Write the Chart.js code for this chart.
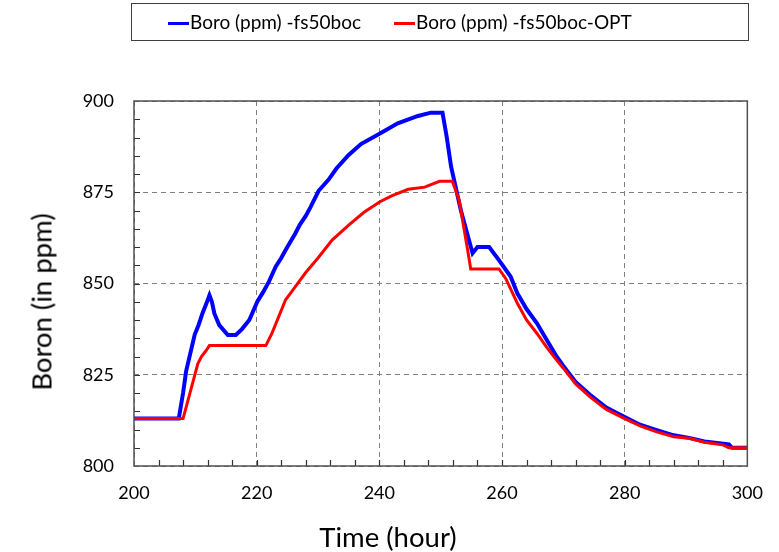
<!DOCTYPE html>
<html><head><meta charset="utf-8">
<script src="https://cdn.jsdelivr.net/npm/chart.js@4.4.1/dist/chart.umd.min.js"></script>
<style>
body{margin:0;background:#fff;}
#wrap{position:relative;width:779px;height:552px;overflow:hidden;}
#c{position:absolute;left:0;top:0;}
#legend{position:absolute;left:131px;top:3px;width:616px;height:36px;border:1px solid #404040;font-family:Lato,"Liberation Sans",sans-serif;font-size:19px;color:#000;}
.li{position:absolute;top:0;height:36px;line-height:36px;white-space:nowrap;}
.sw{display:inline-block;width:21px;height:3px;vertical-align:middle;margin-right:1px;position:relative;top:-1px;}
.ttl{position:absolute;font-family:Lato,"Liberation Sans",sans-serif;font-size:27.5px;color:#000;white-space:nowrap;}
</style></head>
<body><div id="wrap">
<canvas id="c" width="779" height="552"></canvas>
<div id="legend"></div>
<div class="ttl" id="ytitle">Boron (in ppm)</div>
<div class="ttl" id="xtitle">Time (hour)</div>
</div>
<script>
const seriesNames = ["Boro (ppm) -fs50boc", "Boro (ppm) -fs50boc-OPT"];
const seriesColors = ["#0000FF", "#FF0000"];
const xTickLabels = [200, 220, 240, 260, 280, 300];
const yTickLabels = [800, 825, 850, 875, 900];

const blueTime = [200, 207.3, 208.0, 208.5, 209.2, 209.9, 210.5, 211.2, 211.8, 212.3, 212.7, 213.1, 213.9, 215.3, 216.6, 217.6, 218.8, 220.1, 221.0, 222.0, 223.1, 224.0, 225.0, 226.3, 227.0, 228.0, 228.8, 230.1, 231.7, 233.0, 235.0, 237.0, 240.1, 243.0, 246.3, 248.4, 250.3, 251.0, 251.7, 253.3, 255.2, 256.0, 257.9, 259.5, 261.4, 262.5, 264.0, 265.7, 267.3, 268.9, 270.0, 272.0, 274.3, 277.0, 280.0, 282.5, 285.1, 288.0, 290.5, 293.0, 297.0, 297.5, 300];
const blueValues = [813, 813, 820, 826, 831, 836, 838.5, 842, 844.5, 846.8, 845, 841.8, 838.6, 835.9, 835.9, 837.5, 840, 845, 847.5, 850.5, 854.6, 857, 860, 863.7, 866, 868.5, 871, 875.4, 878.4, 881.5, 885.2, 888.2, 891.1, 893.9, 895.9, 896.8, 896.8, 890, 882, 870, 858.3, 860, 860, 856.4, 851.9, 847.3, 843, 839.1, 834.5, 830, 827.4, 823, 819.6, 816, 813.4, 811.3, 809.9, 808.4, 807.7, 806.7, 805.9, 805, 805];

const redTime = [200, 208.0, 208.8, 209.6, 210.4, 211.0, 211.7, 212.3, 221.5, 222.5, 223.5, 224.7, 225.8, 226.9, 228.0, 230.0, 232.3, 235.0, 237.5, 240.1, 242.0, 244.7, 247.4, 249.8, 251.9, 253.0, 254.4, 254.9, 259.5, 260.6, 262.5, 264.0, 265.7, 267.3, 268.9, 270.0, 272.0, 274.3, 277.0, 280.0, 282.5, 285.1, 288.0, 290.5, 293.0, 296.0, 297.0, 300];
const redValues = [813, 813, 818, 823, 828, 830, 831.5, 833, 833, 836.4, 840.5, 845.5, 848, 850.5, 853, 857, 861.9, 866, 869.5, 872.4, 874, 875.8, 876.4, 878, 878, 872.9, 859.2, 854, 854, 851.4, 844.6, 840, 836.3, 832.5, 829, 826.8, 822.5, 819, 815.5, 813, 811, 809.4, 808, 807.6, 806.5, 805.8, 805, 805];

function pts(t, v) { return t.map((x, i) => ({x: x, y: v[i]})); }

// HTML legend
const leg = document.getElementById('legend');
const legX = [36, 262];
seriesNames.forEach((n, i) => {
  const d = document.createElement('div');
  d.className = 'li'; d.style.left = legX[i] + 'px';
  d.innerHTML = '<span class="sw" style="background:' + seriesColors[i] + '"></span>' + n;
  leg.appendChild(d);
});
const yt = document.getElementById('ytitle');
yt.style.left = '41px'; yt.style.top = '302px';
yt.style.transform = 'translate(-50%,-50%) rotate(-90deg)';
const xt = document.getElementById('xtitle');
xt.style.left = '388px'; xt.style.top = '536px';
xt.style.transform = 'translate(-50%,-50%)';

const frame = {
  id: 'frame',
  afterDraw(chart) {
    const {ctx, chartArea: a, scales} = chart;
    ctx.save();
    ctx.strokeStyle = '#303030';
    ctx.lineWidth = 1.2;
    ctx.setLineDash([]);
    ctx.beginPath();
    // minor ticks on y axis (inward)
    for (let v = 805; v < 900; v += 5) {
      const y = Math.round(scales.y.getPixelForValue(v)) + 0.5;
      ctx.moveTo(a.left, y); ctx.lineTo(a.left + 6, y);
    }
    for (let t = 204; t < 300; t += 4) {
      const x = Math.round(scales.x.getPixelForValue(t)) + 0.5;
      ctx.moveTo(x, a.bottom); ctx.lineTo(x, a.bottom - 6);
    }
    ctx.stroke();
    ctx.lineWidth = 1.5;
    ctx.strokeStyle = '#505050';
    ctx.strokeRect(a.left, a.top, a.right - a.left, a.bottom - a.top);
    ctx.restore();
  }
};

new Chart(document.getElementById('c'), {
  type: 'line',
  data: {
    datasets: [
      {label: seriesNames[0], data: pts(blueTime, blueValues), borderColor: seriesColors[0], backgroundColor: seriesColors[0], borderWidth: 4, pointRadius: 0, tension: 0, order: 1},
      {label: seriesNames[1], data: pts(redTime, redValues), borderColor: seriesColors[1], backgroundColor: seriesColors[1], borderWidth: 3, pointRadius: 0, tension: 0, order: 0}
    ]
  },
  options: {
    responsive: false, animation: false,
    layout: {padding: {top: 101, right: 27, left: 0, bottom: 0}},
    plugins: {legend: {display: false}, tooltip: {enabled: false}},
    scales: {
      x: {
        type: 'linear', min: 200, max: 300,
        afterBuildTicks: s => { s.ticks = xTickLabels.map(v => ({value: v})); },
        afterFit: s => { s.height = 86; },
        ticks: {font: {family: 'Lato', size: 18}, color: '#000', padding: 16, maxRotation: 0},
        grid: {color: '#808080', lineWidth: 1, drawTicks: false},
        border: {display: false, dash: [5, 4]}
      },
      y: {
        type: 'linear', min: 800, max: 900,
        afterBuildTicks: s => { s.ticks = yTickLabels.map(v => ({value: v})); },
        afterFit: s => { s.width = 134; },
        ticks: {font: {family: 'Lato', size: 18}, color: '#000', padding: 20},
        grid: {color: '#808080', lineWidth: 1, drawTicks: false},
        border: {display: false, dash: [5, 4]}
      }
    }
  },
  plugins: [frame]
});
</script>
</body></html>
